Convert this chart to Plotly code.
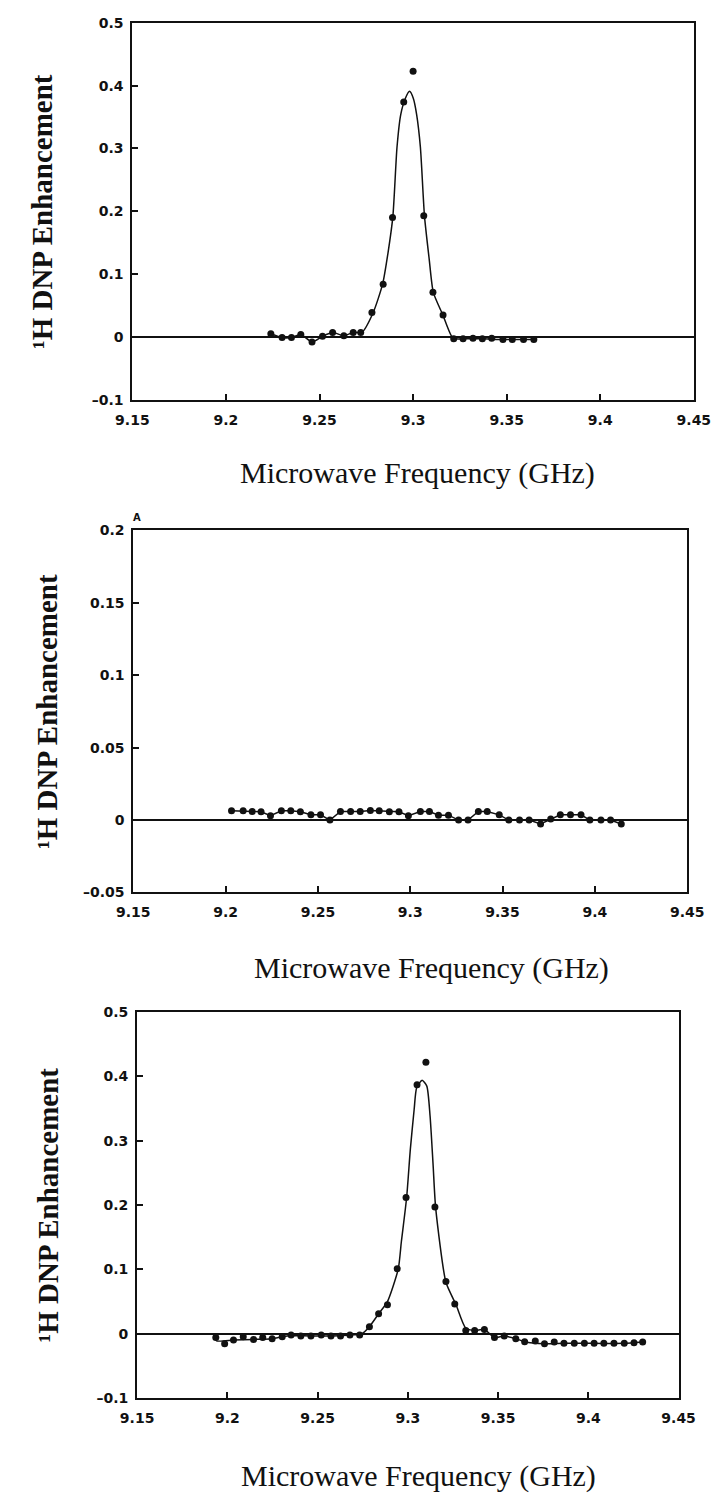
import plotly.graph_objects as go

W, H = 728, 1502

# ---------------- data ----------------
x_ticks = [9.15, 9.2, 9.25, 9.3, 9.35, 9.4, 9.45]
x_tick_text = ["9.15", "9.2", "9.25", "9.3", "9.35", "9.4", "9.45"]

y1_ticks = [-0.1, 0, 0.1, 0.2, 0.3, 0.4, 0.5]
y1_tick_text = ["\u20130.1", "0", "0.1", "0.2", "0.3", "0.4", "0.5"]
y2_ticks = [-0.05, 0, 0.05, 0.1, 0.15, 0.2]
y2_tick_text = ["\u20130.05", "0", "0.05", "0.1", "0.15", "0.2"]

# Panel 1
p1_freq = [9.224, 9.230, 9.235, 9.240, 9.246, 9.2516, 9.257, 9.263, 9.268, 9.272,
           9.278, 9.284, 9.289, 9.295, 9.300, 9.3057, 9.3106, 9.316, 9.3217, 9.3267,
           9.332, 9.337, 9.342, 9.348, 9.353, 9.359, 9.3645]
p1_enh = [0.005, -0.001, -0.001, 0.004, -0.008, 0.001, 0.007, 0.002, 0.007, 0.007,
          0.039, 0.084, 0.190, 0.374, 0.423, 0.193, 0.071, 0.035, -0.003, -0.003,
          -0.002, -0.003, -0.002, -0.004, -0.004, -0.004, -0.004]
p1_fit_freq = [9.224, 9.230, 9.235, 9.240, 9.246, 9.2516, 9.257, 9.263, 9.268, 9.2727,
               9.2787, 9.2837, 9.2866, 9.2892, 9.2914, 9.2934, 9.2959, 9.2981, 9.3001,
               9.3019, 9.3039, 9.3061, 9.3086, 9.3108, 9.3159, 9.3213, 9.3267, 9.337,
               9.348, 9.3645]
p1_fit_enh = [0.005, -0.001, -0.001, 0.004, -0.008, 0.001, 0.007, 0.002, 0.007, 0.0076,
              0.039, 0.084, 0.134, 0.192, 0.302, 0.354, 0.380, 0.391, 0.380,
              0.354, 0.302, 0.192, 0.124, 0.071, 0.035, -0.002, -0.003, -0.003,
              -0.004, -0.004]

# Panel 2
p2_freq = [9.2032, 9.2095, 9.2144, 9.2192, 9.2243, 9.2302, 9.2353, 9.2405, 9.2462, 9.2514,
           9.2565, 9.2622, 9.2677, 9.2729, 9.2784, 9.2832, 9.2887, 9.2939, 9.2990, 9.3055,
           9.3104, 9.3153, 9.3207, 9.3262, 9.3313, 9.3369, 9.3417, 9.3482, 9.3534, 9.3592,
           9.3644, 9.3706, 9.3761, 9.3813, 9.3868, 9.3925, 9.3973, 9.4033, 9.4085, 9.4143]
p2_enh = [0.0064, 0.0064, 0.0059, 0.0057, 0.0030, 0.0064, 0.0064, 0.0057, 0.0036, 0.0036,
          0.0000, 0.0059, 0.0059, 0.0059, 0.0066, 0.0064, 0.0057, 0.0057, 0.0030, 0.0059,
          0.0059, 0.0034, 0.0034, 0.0000, 0.0000, 0.0059, 0.0059, 0.0036, 0.0000, 0.0000,
          0.0000, -0.0027, 0.0007, 0.0036, 0.0036, 0.0036, 0.0000, 0.0000, 0.0000, -0.0027]

# Panel 3
p3_freq = [9.1936, 9.1985, 9.2034, 9.2088, 9.2145, 9.2196, 9.2248, 9.2304, 9.2353, 9.2407,
           9.2463, 9.2520, 9.2574, 9.2627, 9.2679, 9.2733, 9.2787, 9.2838, 9.2887, 9.2941,
           9.2990, 9.3051, 9.3100, 9.3150, 9.3211, 9.3260, 9.3321, 9.3370, 9.3424, 9.3480,
           9.3534, 9.3598, 9.3647, 9.3706, 9.3757, 9.3811, 9.3865, 9.3922, 9.3978, 9.4032,
           9.4086, 9.4142, 9.4199, 9.4253, 9.4301]
p3_enh = [-0.006, -0.0155, -0.0098, -0.0046, -0.0088, -0.006, -0.0077, -0.0046, -0.002, -0.0036,
          -0.0036, -0.002, -0.0036, -0.0036, -0.002, -0.002, 0.011, 0.031, 0.045, 0.101,
          0.212, 0.387, 0.422, 0.197, 0.0814, 0.0464, 0.005, 0.005, 0.0067, -0.006,
          -0.0036, -0.0077, -0.0124, -0.0113, -0.0155, -0.0129, -0.015, -0.015, -0.015, -0.015,
          -0.015, -0.015, -0.015, -0.014, -0.0129]
p3_fit_freq = [9.1925, 9.1940, 9.2034, 9.2145, 9.2248, 9.2304, 9.2353, 9.2463, 9.2574,
               9.2679, 9.2745, 9.2787, 9.2838, 9.2887, 9.2947, 9.2964, 9.2993, 9.3014,
               9.3035, 9.3049, 9.3079, 9.3105, 9.3123, 9.3140, 9.3154, 9.3211, 9.3267,
               9.3320, 9.3370, 9.3424, 9.3480, 9.3534, 9.3598, 9.3647, 9.3757, 9.3865,
               9.4032, 9.4199, 9.4301]
p3_fit_enh = [-0.001, -0.011, -0.0098, -0.0088, -0.0077, -0.0046, -0.003, -0.0036, -0.0036,
              -0.002, 0.000, 0.011, 0.031, 0.050, 0.101, 0.143, 0.211, 0.2875,
              0.349, 0.383, 0.394, 0.385, 0.339, 0.262, 0.196, 0.080, 0.045,
              0.009, 0.005, 0.0067, -0.006, -0.0036, -0.0077, -0.0124, -0.0155, -0.015,
              -0.015, -0.015, -0.0129]

x_title = "Microwave Frequency (GHz)"
y_title = "\u00b9H DNP Enhancement"
panel_label = "A"

# ---------------- layout (pixel boxes) ----------------
panels = [
    dict(l=121, r=710, t=15, b=396, yr=[-0.1, 0.5], yt=y1_ticks, ytt=y1_tick_text,
         xt_x=420, xt_y=470, yt_x=27),
    dict(l=122, r=703, t=528, b=894, yr=[-0.05, 0.2], yt=y2_ticks, ytt=y2_tick_text,
         xt_x=435, xt_y=970, yt_x=32),
    dict(l=126, r=694, t=1015, b=1405, yr=[-0.1, 0.5], yt=y1_ticks, ytt=y1_tick_text,
         xt_x=421, xt_y=1484, yt_x=33),
]

fig = go.Figure()
BLACK = "#111111"
tickfont = dict(family="DejaVu Sans", size=14, color=BLACK, weight="bold")

layout = dict(width=W, height=H, margin=dict(l=0, r=0, t=0, b=0),
              paper_bgcolor="white", plot_bgcolor="white", showlegend=False,
              annotations=[])

for i, p in enumerate(panels, start=1):
    sfx = "" if i == 1 else str(i)
    layout["xaxis" + sfx] = dict(
        domain=[p["l"] / W, p["r"] / W], range=[9.15, 9.45], anchor="y" + sfx,
        tickvals=x_ticks, ticktext=x_tick_text, ticks="inside",
        ticklen=6, tickwidth=1.5, tickcolor=BLACK,
        showline=True, linecolor=BLACK, linewidth=2, mirror=True,
        showgrid=False, zeroline=False, tickfont=tickfont, ticklabelstandoff=6)
    layout["yaxis" + sfx] = dict(
        domain=[1 - p["b"] / H, 1 - p["t"] / H], range=p["yr"], anchor="x" + sfx,
        tickvals=p["yt"], ticktext=p["ytt"], ticks="inside",
        ticklen=6, tickwidth=1.5, tickcolor=BLACK,
        showline=True, linecolor=BLACK, linewidth=2, mirror=True,
        showgrid=False, zeroline=True, zerolinecolor=BLACK,
        zerolinewidth=2, tickfont=tickfont, ticklabelstandoff=4)
    layout["annotations"].append(dict(
        text=x_title, xref="paper", yref="paper", x=p["xt_x"] / W, y=1 - p["xt_y"] / H,
        xanchor="center", yanchor="middle", showarrow=False,
        font=dict(family="Liberation Serif", size=30, color=BLACK)))
    layout["annotations"].append(dict(
        text=y_title, xref="paper", yref="paper", x=p["yt_x"] / W,
        y=1 - (p["t"] + p["b"]) / 2 / H, textangle=-90,
        xanchor="center", yanchor="middle", showarrow=False,
        font=dict(family="Liberation Serif", size=29, color=BLACK, weight="bold")))

layout["annotations"].append(dict(
    text=panel_label, xref="paper", yref="paper", x=126 / W, y=1 - 515 / H,
    xanchor="center", yanchor="middle", showarrow=False,
    font=dict(family="DejaVu Sans", size=10, color=BLACK, weight="bold")))

marker = dict(symbol="circle", size=7, color=BLACK)
line = dict(color=BLACK, width=1.5)

# Panel 1
fig.add_trace(go.Scatter(x=p1_fit_freq, y=p1_fit_enh, mode="lines",
                         line=dict(color=BLACK, width=1.5, shape="spline", smoothing=0.6),
                         xaxis="x", yaxis="y"))
fig.add_trace(go.Scatter(x=p1_freq, y=p1_enh, mode="markers", marker=marker,
                         xaxis="x", yaxis="y"))
# Panel 2
fig.add_trace(go.Scatter(x=p2_freq, y=p2_enh, mode="lines+markers", marker=marker,
                         line=line, xaxis="x2", yaxis="y2"))
# Panel 3
fig.add_trace(go.Scatter(x=p3_fit_freq, y=p3_fit_enh, mode="lines",
                         line=dict(color=BLACK, width=1.5, shape="spline", smoothing=0.6),
                         xaxis="x3", yaxis="y3"))
fig.add_trace(go.Scatter(x=p3_freq, y=p3_enh, mode="markers", marker=marker,
                         xaxis="x3", yaxis="y3"))

fig.update_layout(**layout)
fig.write_html("out.html")
